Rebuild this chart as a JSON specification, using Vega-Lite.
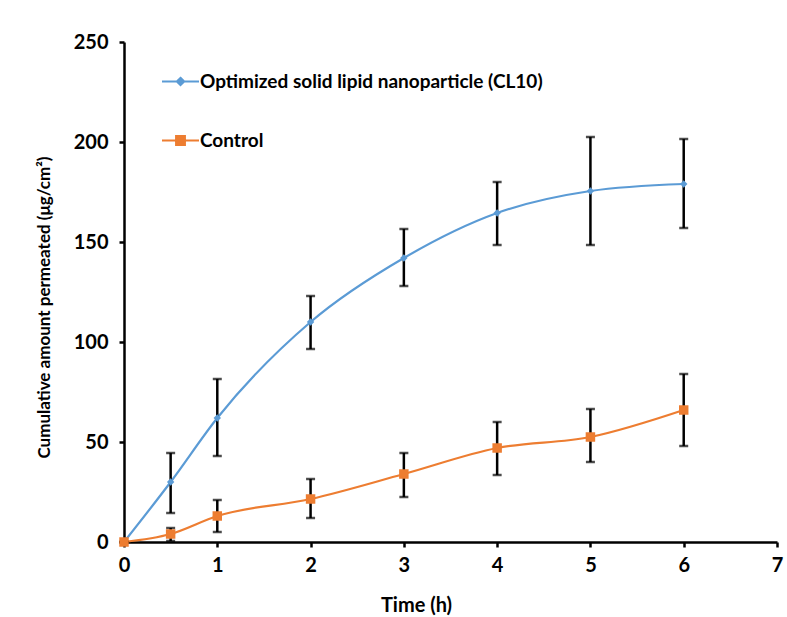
{
  "$schema": "https://vega.github.io/schema/vega-lite/v6.json",
  "width": 653,
  "height": 500,
  "autosize": {"type": "none"},
  "padding": {"left": 124, "top": 42, "right": 10, "bottom": 75},
  "background": "white",
  "config": {
    "view": {"stroke": null},
    "font": "Lato",
    "axis": {"grid": false, "domainColor": "black", "domainWidth": 2.5, "tickColor": "black", "tickWidth": 2.5, "tickSize": 5, "labelFont": "Lato", "labelFontWeight": "bold", "labelFontSize": 20, "labelColor": "black", "titleFont": "Lato", "titleFontWeight": "bold", "titleColor": "black", "labelFlush": false}
  },
  "data": {
    "values": [
      {"time": 0, "series": "Optimized solid lipid nanoparticle (CL10)", "mean": 0, "lo": 0, "hi": 0},
      {"time": 0.5, "series": "Optimized solid lipid nanoparticle (CL10)", "mean": 30, "lo": 14.5, "hi": 44.5},
      {"time": 1, "series": "Optimized solid lipid nanoparticle (CL10)", "mean": 62, "lo": 43, "hi": 81.5},
      {"time": 2, "series": "Optimized solid lipid nanoparticle (CL10)", "mean": 110, "lo": 96.5, "hi": 123},
      {"time": 3, "series": "Optimized solid lipid nanoparticle (CL10)", "mean": 142, "lo": 128, "hi": 156.5},
      {"time": 4, "series": "Optimized solid lipid nanoparticle (CL10)", "mean": 164.5, "lo": 148.5, "hi": 180},
      {"time": 5, "series": "Optimized solid lipid nanoparticle (CL10)", "mean": 175.5, "lo": 148.5, "hi": 202.5},
      {"time": 6, "series": "Optimized solid lipid nanoparticle (CL10)", "mean": 179, "lo": 157, "hi": 201.5},
      {"time": 0, "series": "Control", "mean": 0, "lo": 0, "hi": 0},
      {"time": 0.5, "series": "Control", "mean": 4, "lo": 0.5, "hi": 7},
      {"time": 1, "series": "Control", "mean": 13, "lo": 5, "hi": 21},
      {"time": 2, "series": "Control", "mean": 21.5, "lo": 12, "hi": 31.5},
      {"time": 3, "series": "Control", "mean": 34, "lo": 22.5, "hi": 44.5},
      {"time": 4, "series": "Control", "mean": 47, "lo": 33.5, "hi": 60},
      {"time": 5, "series": "Control", "mean": 52.5, "lo": 40, "hi": 66.5},
      {"time": 6, "series": "Control", "mean": 66, "lo": 48, "hi": 84}
    ]
  },
  "encoding": {
    "x": {
      "field": "time",
      "type": "quantitative",
      "scale": {"domain": [0, 7], "nice": false, "zero": true},
      "axis": {"values": [0, 1, 2, 3, 4, 5, 6, 7], "title": "Time (h)", "titleFontSize": 20, "labelPadding": 8, "titleX": 292, "titleY": 63, "titleBaseline": "middle", "titleAnchor": "middle"}
    }
  },
  "layer": [
    {
      "mark": {"type": "line", "interpolate": "monotone", "strokeWidth": 2.2},
      "encoding": {
        "y": {
          "field": "mean",
          "type": "quantitative",
          "title": "Cumulative amount permeated (μg/cm²)",
          "scale": {"domain": [0, 250], "nice": false},
          "axis": {"values": [0, 50, 100, 150, 200, 250], "titleFontSize": 17, "labelPadding": 11, "titleX": -80, "titleY": 265, "titleBaseline": "middle", "titleAnchor": "middle"}
        },
        "color": {
          "field": "series",
          "type": "nominal",
          "sort": ["Optimized solid lipid nanoparticle (CL10)", "Control"],
          "scale": {"domain": ["Optimized solid lipid nanoparticle (CL10)", "Control"], "range": ["#5B9BD5", "#ED7D31"]},
          "legend": {
            "title": null,
            "orient": "none",
            "legendX": 37,
            "legendY": 20,
            "symbolSize": 1369,
            "labelFont": "Lato",
            "labelFontWeight": "bold",
            "labelFontSize": 19,
            "labelColor": "black",
            "labelLimit": 600,
            "labelOffset": 0,
            "rowPadding": 29,
            "padding": 0,
            "encode": {
              "symbols": {
                "update": {
                  "shape": {"signal": "datum.value === 'Control' ? 'M-1,0H1M-0.24,-0.24H0.24V0.24H-0.24Z' : 'M-1,0H1M0,-0.2L0.2,0L0,0.2L-0.2,0Z'"},
                  "size": {"value": 1369},
                  "fill": {"scale": "color", "field": "value"},
                  "stroke": {"scale": "color", "field": "value"},
                  "strokeWidth": {"value": 2},
                  "fillOpacity": {"value": 1},
                  "opacity": {"value": 1}
                }
              }
            }
          }
        }
      }
    },
    {
      "mark": {"type": "errorbar", "ticks": {"size": 9, "thickness": 2.5, "color": "black"}, "rule": {"strokeWidth": 2.5, "color": "black"}},
      "encoding": {
        "y": {"field": "lo", "type": "quantitative", "title": "Cumulative amount permeated (μg/cm²)"},
        "y2": {"field": "hi"}
      }
    },
    {
      "transform": [{"filter": "datum.series !== 'Control'"}],
      "mark": {"type": "point", "filled": true, "opacity": 1, "shape": "diamond", "size": 55},
      "encoding": {
        "y": {"field": "mean", "type": "quantitative", "title": "Cumulative amount permeated (μg/cm²)"},
        "color": {"field": "series", "type": "nominal", "legend": null}
      }
    },
    {
      "transform": [{"filter": "datum.series === 'Control'"}],
      "mark": {"type": "point", "filled": true, "opacity": 1, "shape": "square", "size": 90},
      "encoding": {
        "y": {"field": "mean", "type": "quantitative", "title": "Cumulative amount permeated (μg/cm²)"},
        "color": {"field": "series", "type": "nominal", "legend": null}
      }
    }
  ]
}
